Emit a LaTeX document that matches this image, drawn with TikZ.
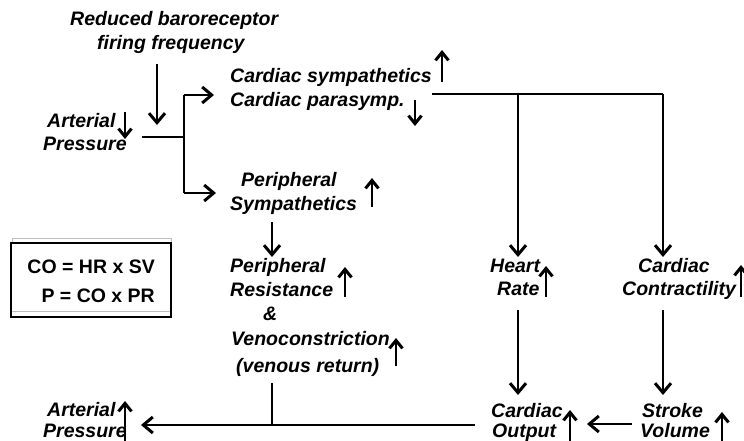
\documentclass[tikz,border=0pt]{standalone}
\usepackage{fontspec}
\setmainfont{Liberation Sans}
\usetikzlibrary{arrows.meta}
\begin{document}
\begin{tikzpicture}[x=1pt,y=-1pt,
  lbl/.style={font=\fontsize{19.5}{23.5}\selectfont\bfseries\itshape, inner sep=0pt, anchor=base west},
  eq/.style={font=\fontsize{19.5}{23.5}\selectfont\bfseries, inner sep=0pt, anchor=base east},
  conn/.style={line width=1.9pt, -{Straight Barb[length=9.5pt,width=16pt,line width=3pt]}},
  plain/.style={line width=1.9pt},
  updown/.style={line width=2pt, -{Straight Barb[length=8pt,width=13pt,line width=3pt]}}]
\useasboundingbox (0,0) rectangle (744,441);
% texts
\node[lbl] (rb1) at (70,26) {Reduced baroreceptor};
\node[lbl] (rb2) at (97,50) {firing frequency};
\node[lbl] (cs1) at (230,83) {Cardiac sympathetics};
\node[lbl] (cs2) at (230,107) {Cardiac parasymp.};
\node[lbl] (ap1) at (47,128) {Arterial};
\node[lbl] (ap2) at (43,150) {Pressure};
\node[lbl] (ps1) at (241,186) {Peripheral};
\node[lbl] (ps2) at (230,210) {Sympathetics};
\node[eq] (eq1) at (155,273) {CO = HR x SV};
\node[eq] (eq2) at (155,302) {P = CO x PR};
\node[lbl] (pr1) at (230,272) {Peripheral};
\node[lbl] (pr2) at (230,296) {Resistance};
\node[lbl] (amp) at (263,320) {\&};
\node[lbl] (vc1) at (231,345) {Venoconstriction};
\node[lbl] (vc2) at (236,372) {(venous return)};
\node[lbl] (hr1) at (490,272) {Heart};
\node[lbl] (hr2) at (497,295) {Rate};
\node[lbl] (cc1) at (638,272) {Cardiac};
\node[lbl] (cc2) at (622,295) {Contractility};
\node[lbl] (co1) at (491,417) {Cardiac};
\node[lbl] (co2) at (492,437) {Output};
\node[lbl] (sv1) at (642,417) {Stroke};
\node[lbl] (sv2) at (640,437) {Volume};
\node[lbl] (ab1) at (47,416) {Arterial};
\node[lbl] (ab2) at (43,437) {Pressure};
% equation box
\draw[gray!50, line width=0.8pt] (12,243) -- (12,238) -- (171,238) -- (171,243);
\draw[gray!50, line width=0.8pt] (12,311) -- (171,311);
\draw[line width=1.9pt] (11,243) rectangle (171,317);
% small up/down arrows
\coordinate (a1s) at (125,112); \coordinate (a1t) at (125,139);
\draw[updown] (a1s) -- (a1t);
\coordinate (a2s) at (442,82); \coordinate (a2t) at (442,50);
\draw[updown] (a2s) -- (a2t);
\coordinate (a3s) at (415,100); \coordinate (a3t) at (415,126);
\draw[updown] (a3s) -- (a3t);
\coordinate (a4s) at (372,207); \coordinate (a4t) at (372,178);
\draw[updown] (a4s) -- (a4t);
\coordinate (a5s) at (345,297); \coordinate (a5t) at (345,267);
\draw[updown] (a5s) -- (a5t);
\coordinate (a6s) at (396,366); \coordinate (a6t) at (396,338);
\draw[updown] (a6s) -- (a6t);
\coordinate (a7s) at (546,297); \coordinate (a7t) at (546,266);
\draw[updown] (a7s) -- (a7t);
\coordinate (a8s) at (741,297); \coordinate (a8t) at (741,265);
\draw[updown] (a8s) -- (a8t);
\coordinate (a9s) at (570,445); \coordinate (a9t) at (570,410);
\draw[updown] (a9s) -- (a9t);
\coordinate (a10s) at (722,445); \coordinate (a10t) at (722,412);
\draw[updown] (a10s) -- (a10t);
\coordinate (a11s) at (125,441); \coordinate (a11t) at (125,401);
\draw[updown] (a11s) -- (a11t);
% connectors
\coordinate (rbA) at (157,64); \coordinate (rbB) at (157,125);
\draw[conn] (rbA) -- (rbB);
\coordinate (apE) at (142,137); \coordinate (jA) at (184,137);
\coordinate (jT) at (184,95); \coordinate (jB) at (184,193);
\coordinate (csW) at (214,95); \coordinate (psW) at (216,193);
\draw[plain] (apE) -- (jA);
\draw[plain] (jT) -- (jB);
\draw[conn] (jT) -- (csW);
\draw[conn] (jB) -- (psW);
\coordinate (csE) at (432,94); \coordinate (jH) at (518,94); \coordinate (jC) at (663,94);
\coordinate (hrN) at (518,257); \coordinate (ccN) at (663,257);
\draw[plain] (csE) -- (jC);
\draw[conn] (jH) -- (hrN);
\draw[conn] (jC) -- (ccN);
\coordinate (psS) at (272,222); \coordinate (prN) at (272,257);
\draw[conn] (psS) -- (prN);
\coordinate (hrS) at (518,310); \coordinate (coN) at (518,395);
\draw[conn] (hrS) -- (coN);
\coordinate (ccS) at (663,310); \coordinate (svN) at (663,395);
\draw[conn] (ccS) -- (svN);
\coordinate (svW) at (632,424); \coordinate (coE) at (587,424);
\draw[conn] (svW) -- (coE);
\coordinate (coW) at (475,425); \coordinate (abE) at (141,425);
\draw[conn] (coW) -- (abE);
\coordinate (vcS) at (272,383); \coordinate (vcJ) at (272,425);
\draw[plain] (vcS) -- (vcJ);
\end{tikzpicture}
\end{document}
